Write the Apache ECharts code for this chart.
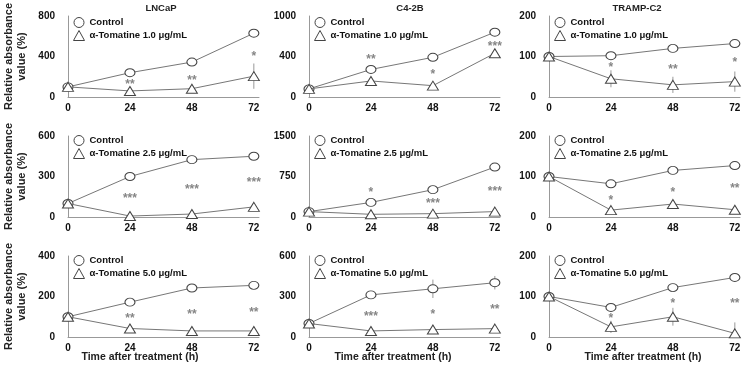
<!DOCTYPE html>
<html>
<head>
<meta charset="utf-8">
<script src="https://cdn.jsdelivr.net/npm/echarts@6/dist/echarts.min.js"></script>
<style>
  html, body { margin: 0; background: #fff; }
  #chart { width: 750px; height: 369px; }
</style>
</head>
<body>
<div id="chart"></div>
<script>
const hours = [0, 24, 48, 72];
const cellLines = ['LNCaP', 'C4-2B', 'TRAMP-C2'];
const doses = ['1.0', '2.5', '5.0'];

// y axis: max value and the tick labels printed at 0, max/2, max (rows = dose)
const yMax = [[800, 1000, 200], [600, 1500, 200], [400, 600, 200]];
const yTickLabels = [
  [['0', '400', '800'], ['0', '400', '1000'], ['0', '100', '200']],
  [['0', '300', '600'], ['0', '750', '1500'], ['0', '100', '200']],
  [['0', '200', '400'], ['0', '300', '600'], ['0', '100', '200']]
];

// values per dose row, at 0 / 24 / 48 / 72 h
const lncapControl = [[100, 240, 345, 630], [100, 300, 425, 450], [100, 172, 242, 255]];
const lncapTomatine = [[100, 60, 82, 206], [100, 7, 22, 75], [100, 42, 30, 30]];
const lncapControlErr = [[5, 15, 20, 25], [5, 10, 10, 10], [5, 8, 10, 10]];
const lncapTomatineErr = [[5, 10, 10, 125], [5, 3, 5, 10], [5, 5, 5, 5]];

const c42bControl = [[100, 340, 490, 800], [100, 270, 506, 925], [100, 312, 357, 402]];
const c42bTomatine = [[100, 198, 140, 540], [100, 50, 62, 100], [100, 45, 55, 62]];
const c42bControlErr = [[5, 20, 40, 20], [5, 20, 30, 60], [5, 15, 68, 50]];
const c42bTomatineErr = [[5, 10, 10, 20], [5, 5, 5, 8], [5, 5, 5, 5]];

const trampControl = [[100, 102, 120, 132], [100, 82, 115, 127], [100, 73, 122, 147]];
const trampTomatine = [[100, 45, 30, 38], [100, 17, 32, 18], [100, 25, 50, 9]];
const trampControlErr = [[3, 3, 4, 4], [3, 3, 4, 4], [3, 3, 4, 4]];
const trampTomatineErr = [[3, 21, 20, 25], [3, 5, 6, 6], [3, 15, 22, 27]];

// significance marks at 24 / 48 / 72 h and the height they are printed at
const lncapStars = [['**', '**', '*'], ['***', '***', '***'], ['**', '**', '**']];
const lncapStarY = [[154, 193, 428], [156, 223, 273], [105, 126, 135]];
const c42bStars = [['**', '*', '***'], ['*', '***', '***'], ['***', '*', '**']];
const c42bStarY = [[498, 312, 663], [500, 300, 519], [170, 187, 225]];
const trampStars = [['*', '**', '*'], ['*', '*', '**'], ['*', '*', '**']];
const trampStarY = [[80, 75, 92], [47, 67, 77], [52, 90, 90]];

const controls = [lncapControl, c42bControl, trampControl];
const tomatines = [lncapTomatine, c42bTomatine, trampTomatine];
const controlErrs = [lncapControlErr, c42bControlErr, trampControlErr];
const tomatineErrs = [lncapTomatineErr, c42bTomatineErr, trampTomatineErr];
const stars = [lncapStars, c42bStars, trampStars];
const starYs = [lncapStarY, c42bStarY, trampStarY];

const gridLeft = [68, 309, 549];
const gridTop = [16, 136, 256];
const legendTop = [17, 135, 255];

const font = 'Liberation Sans, Arial, sans-serif';
const markerStyle = { color: '#fff', borderColor: '#444', borderWidth: 1 };

const grids = [], xAxes = [], yAxes = [], series = [], legends = [];

function errorBars(r, vals, errs, idx) {
  return {
    type: 'custom',
    xAxisIndex: idx, yAxisIndex: idx,
    z: 1,
    silent: true,
    data: hours.map((h, k) => [h, vals[r][k], errs[r][k]]),
    renderItem: function (params, api) {
      const x = api.value(0), y = api.value(1), e = api.value(2);
      const p1 = api.coord([x, y + e]);
      const p2 = api.coord([x, Math.max(0, y - e)]);
      return {
        type: 'line',
        shape: { x1: p1[0], y1: p1[1], x2: p2[0], y2: p2[1] },
        style: { stroke: '#999', lineWidth: 1 }
      };
    }
  };
}

for (let r = 0; r < 3; r++) {
  for (let c = 0; c < 3; c++) {
    const idx = r * 3 + c;
    const tomName = 'α-Tomatine ' + doses[r] + ' μg/mL';
    grids.push({ left: gridLeft[c], top: gridTop[r], width: 191, height: 81 });
    xAxes.push({
      type: 'value', gridIndex: idx, min: 0, max: 74, interval: 24,
      axisLine: { show: true, lineStyle: { color: '#999', width: 1 } },
      axisTick: { show: false },
      splitLine: { show: false },
      axisLabel: {
        margin: 6, fontSize: 10, fontWeight: 'bold', color: '#111', fontFamily: font,
        formatter: v => (hours.indexOf(v) >= 0 ? String(v) : '')
      }
    });
    const labels = yTickLabels[r][c];
    const step = yMax[r][c] / 2;
    yAxes.push({
      type: 'value', gridIndex: idx, min: 0, max: yMax[r][c], interval: step,
      axisLine: { show: true, lineStyle: { color: '#999', width: 1 } },
      axisTick: { show: false },
      splitLine: { show: false },
      axisLabel: {
        margin: 13, fontSize: 10, fontWeight: 'bold', color: '#111', fontFamily: font,
        formatter: v => labels[Math.round(v / step)]
      },
      name: c === 0 ? 'Relative absorbance\nvalue (%)' : '',
      nameLocation: 'middle', nameRotate: 90, nameGap: 40,
      nameTextStyle: { fontSize: 11, fontWeight: 'bold', color: '#222', fontFamily: font, lineHeight: 13 }
    });

    series.push(errorBars(r, controls[c], controlErrs[c], idx));
    series.push(errorBars(r, tomatines[c], tomatineErrs[c], idx));
    series.push({
      name: 'Control', type: 'line', xAxisIndex: idx, yAxisIndex: idx, z: 3,
      symbol: 'circle', symbolSize: [10, 8], showAllSymbol: true,
      itemStyle: markerStyle,
      lineStyle: { color: '#777', width: 1 },
      data: hours.map((h, k) => [h, controls[c][r][k]])
    });
    series.push({
      name: tomName, type: 'line', xAxisIndex: idx, yAxisIndex: idx, z: 4,
      symbol: 'triangle', symbolSize: [11, 9], showAllSymbol: true,
      itemStyle: markerStyle,
      lineStyle: { color: '#777', width: 1 },
      data: hours.map((h, k) => [h, tomatines[c][r][k]])
    });
    series.push({
      type: 'scatter', xAxisIndex: idx, yAxisIndex: idx, z: 5, silent: true,
      symbolSize: 1, itemStyle: { color: 'transparent' },
      label: {
        show: true, position: 'inside', offset: [0, 3],
        fontSize: 12, fontWeight: 'bold', color: '#666', fontFamily: font,
        formatter: p => p.value[2]
      },
      data: hours.slice(1).map((h, k) => [h, starYs[c][r][k], stars[c][r][k]])
    });

    legends.push({
      left: gridLeft[c] + 5, top: legendTop[r], orient: 'vertical',
      padding: 0, itemGap: 2, itemWidth: 11, itemHeight: 10,
      selectedMode: false,
      textStyle: { fontSize: 9.5, fontWeight: 'bold', color: '#111', fontFamily: font },
      data: [
        { name: 'Control', icon: 'circle', itemStyle: markerStyle },
        { name: tomName, icon: 'triangle', itemStyle: markerStyle }
      ]
    });
  }
}

const titleX = [161, 410, 637];
const axisTitleX = [140, 393, 643];
const graphics = [];
for (let c = 0; c < 3; c++) {
  graphics.push({
    type: 'text', x: titleX[c], y: 8,
    style: { text: cellLines[c], font: 'bold 9.5px ' + font, fill: '#222', textAlign: 'center', textVerticalAlign: 'middle' }
  });
  graphics.push({
    type: 'text', x: axisTitleX[c], y: 357,
    style: { text: 'Time after treatment (h)', font: 'bold 10.5px ' + font, fill: '#222', textAlign: 'center', textVerticalAlign: 'middle' }
  });
}

const chart = echarts.init(document.getElementById('chart'));
chart.setOption({
  animation: false,
  backgroundColor: '#fff',
  grid: grids,
  xAxis: xAxes,
  yAxis: yAxes,
  legend: legends,
  series: series,
  graphic: graphics
});
</script>
</body>
</html>
